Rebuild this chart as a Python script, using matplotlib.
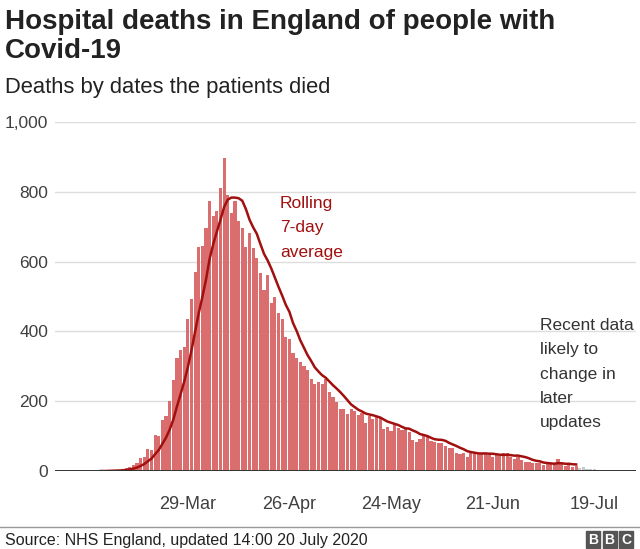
import matplotlib
matplotlib.use("Agg")
import matplotlib.pyplot as plt
import matplotlib.dates as mdates
from matplotlib.patches import Rectangle
import pandas as pd

plt.rcParams['font.family'] = ['Liberation Sans', 'DejaVu Sans']

# daily hospital deaths, 5 March to 19 July 2020
first_day = "2020-03-05"
deaths = [
    0, 0, 1, 1, 2, 3, 5, 8, 12, 17, 22, 36, 40, 62, 60, 103, 100, 147, 157, 202,
    261, 323, 347, 356,
    435, 492, 571, 641, 645, 695, 774, 730, 745, 810, 896, 791, 738, 774, 717,
    695, 643, 683, 638, 609, 568,
    519, 563, 482, 499, 452, 435, 383, 377, 338, 323, 313, 301, 289, 265, 249,
    256, 248, 263, 227, 212, 199, 178, 177, 163, 178, 173, 160, 165, 137, 158,
    148, 154, 151,
    119, 125, 114, 135, 124, 118, 120, 113,
    89, 84, 92, 106, 97, 85, 84, 80, 80, 73, 65, 67, 53,
    48, 51, 41, 55, 53, 53, 50, 50, 45,
    40, 45, 43, 51, 53, 41, 35, 41, 31, 27, 27, 22, 22, 24, 17, 21, 20, 20, 33,
    20, 14, 17, 12, 15,
    8, 12, 5, 5, 6,
]
n_recent = 5  # last days drawn grey (likely to change)

tick_dates = ["2020-03-29", "2020-04-26", "2020-05-24", "2020-06-21", "2020-07-19"]
tick_labels = ["29-Mar", "26-Apr", "24-May", "21-Jun", "19-Jul"]
y_ticks = [0, 200, 400, 600, 800, 1000]
y_labels = ["0", "200", "400", "600", "800", "1,000"]

W, H = 640, 549
BAR_RED = "#da6e6e"
BAR_GREY = "#c9c9c9"
LINE_RED = "#a10f0f"
TEXT = "#404040"


def fx(x):
    return x / W


def fy(y):
    return 1 - y / H


df = pd.DataFrame({"deaths": deaths},
                  index=pd.date_range(first_day, periods=len(deaths), freq="D"))
confirmed = df.iloc[:-n_recent]
recent = df.iloc[-n_recent:]
rolling = confirmed["deaths"].rolling(7, min_periods=1).mean()

fig = plt.figure(figsize=(W / 100, H / 100), dpi=100)
ax = fig.add_axes([fx(55), fy(471), (636 - 55) / W, (471 - 122) / H])

ax.bar(confirmed.index, confirmed["deaths"], width=0.87, color=BAR_RED, zorder=2)
ax.bar(recent.index, recent["deaths"], width=0.87, color=BAR_GREY, zorder=2)
ax.plot(rolling.index, rolling.values, color=LINE_RED, lw=1.8, zorder=3)

ref = mdates.date2num(pd.Timestamp("2020-03-29"))
ax.set_xlim(ref - 36.6, ref + 123.5)
ax.set_ylim(0, 1000)

ax.set_yticks(y_ticks)
ax.set_yticklabels(y_labels)
ax.set_xticks([mdates.date2num(pd.Timestamp(d)) for d in tick_dates])
ax.set_xticklabels(tick_labels)
ax.tick_params(axis="both", length=0, colors=TEXT)
ax.tick_params(axis="x", pad=18, labelsize=13)
ax.tick_params(axis="y", pad=5, labelsize=12.5)

ax.set_axisbelow(True)
ax.yaxis.grid(True, color="#dddddd", lw=1)
ax.axhline(0, color="#333333", lw=1.4, zorder=4)
for side in ax.spines.values():
    side.set_visible(False)

# titles
fig.text(fx(5), fy(29), "Hospital deaths in England of people with",
         fontsize=20, fontweight="bold", color="#222222", va="baseline")
fig.text(fx(5), fy(58), "Covid-19",
         fontsize=20, fontweight="bold", color="#222222", va="baseline")
fig.text(fx(5), fy(93), "Deaths by dates the patients died",
         fontsize=15.8, color="#222222", va="baseline")

# annotations
fig.text(fx(280), fy(196), "Rolling\n7-day\naverage", fontsize=12.5,
         color=LINE_RED, va="top", linespacing=1.78)
fig.text(fx(540), fy(318), "Recent data\nlikely to\nchange in\nlater\nupdates",
         fontsize=12.5, color="#333333", va="top", linespacing=1.78)

# footer
fig.add_artist(plt.Line2D([0, 1], [fy(527), fy(527)], color="#999999", lw=1))
fig.text(fx(5), fy(540), "Source: NHS England, updated 14:00 20 July 2020",
         fontsize=11.5, color="#222222", va="center")
for i, letter in enumerate("BBC"):
    x0 = 586 + i * 16.5
    fig.add_artist(Rectangle((fx(x0), fy(548)), 14 / W, 17 / H,
                             transform=fig.transFigure, color="#555555"))
    fig.text(fx(x0 + 7), fy(539.5), letter, fontsize=10, fontweight="bold",
             color="white", ha="center", va="center")

fig.savefig("out.png", dpi=100)
